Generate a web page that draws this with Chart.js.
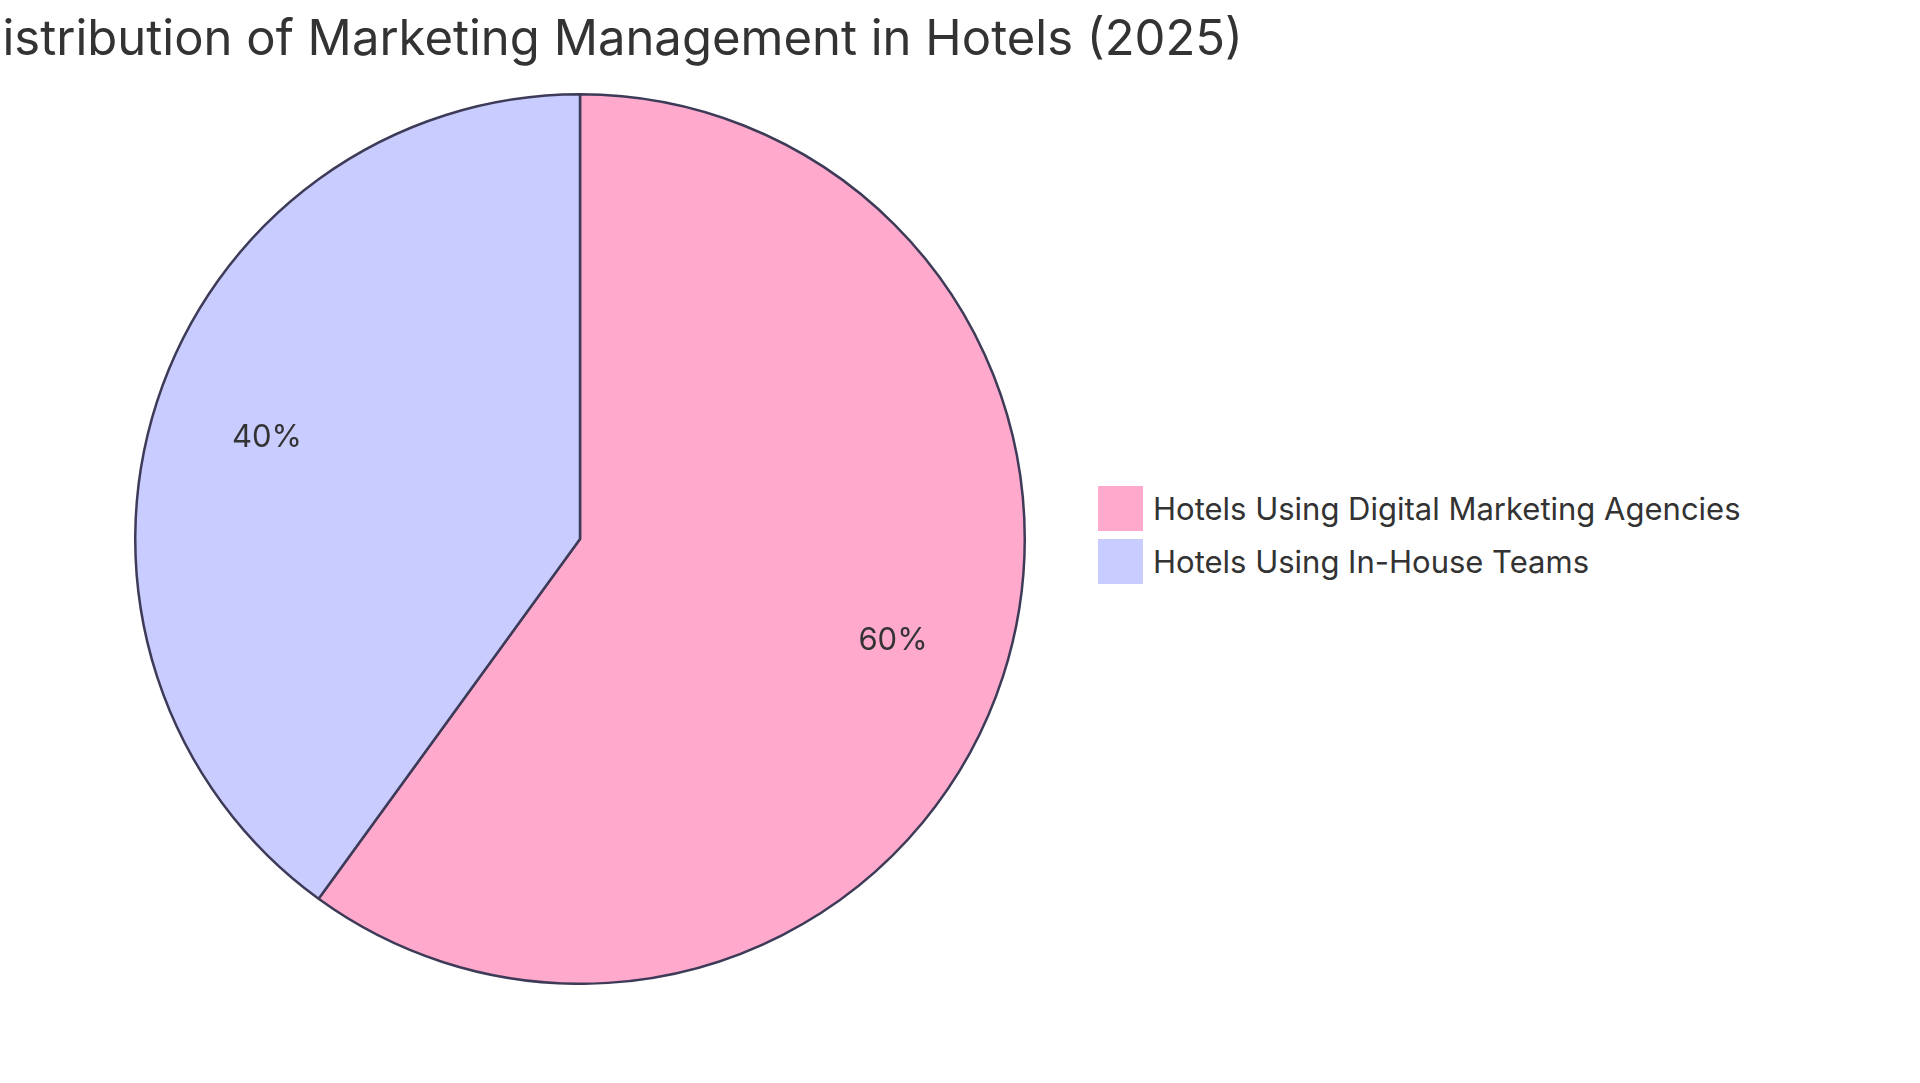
<!DOCTYPE html>
<html><head><meta charset="utf-8">
<script src="https://cdn.jsdelivr.net/npm/chart.js@4"></script>
<style>
body{margin:0;width:1920px;height:1083px;background:#fff;position:relative;overflow:hidden;font-family:Inter,"Open Sans",sans-serif;color:#333}
#title{position:absolute;right:677px;top:8px;font-size:49px;white-space:nowrap;font-weight:400}
#wrap{position:absolute;left:134px;top:93px;width:892px;height:892px}
.leg{position:absolute;left:1098px;font-size:31px;display:flex;align-items:center;white-space:nowrap}
.sw{width:45px;height:45px;margin-right:10px;display:inline-block}
</style></head><body>
<div id="title">Distribution of Marketing Management in Hotels (2025)</div>
<div id="wrap"><canvas id="c"></canvas></div>
<div id="legend"></div>
<script>
const categories=["Hotels Using Digital Marketing Agencies","Hotels Using In-House Teams"];
const values=[60,40];
const colors=["#FFAACC","#C9CCFF"];
const lg=document.getElementById('legend');
categories.forEach((c,i)=>{const d=document.createElement('div');d.className='leg';d.style.top=(486+i*53)+'px';
d.innerHTML='<span class="sw" style="background:'+colors[i]+'"></span>'+c;lg.appendChild(d);});
const labelPlugin={id:'lbl',afterDatasetsDraw(ch){const ctx=ch.ctx;const meta=ch.getDatasetMeta(0);
ctx.save();ctx.font='31px Inter, "Open Sans", sans-serif';ctx.fillStyle='#333';ctx.textAlign='center';ctx.textBaseline='middle';
meta.data.forEach((a,i)=>{const m=(a.startAngle+a.endAngle)/2;const r=a.outerRadius*0.74;
ctx.fillText(values[i]+'%',a.x+Math.cos(m)*r,a.y+Math.sin(m)*r);});ctx.restore();}};
new Chart(document.getElementById('c'),{type:'pie',
data:{labels:categories,datasets:[{data:values,backgroundColor:colors,borderColor:'#3d3b58',borderWidth:2.5}]},
options:{responsive:true,maintainAspectRatio:true,aspectRatio:1,animation:false,layout:{padding:0},
plugins:{legend:{display:false},tooltip:{enabled:false}}},plugins:[labelPlugin]});
</script></body></html>
